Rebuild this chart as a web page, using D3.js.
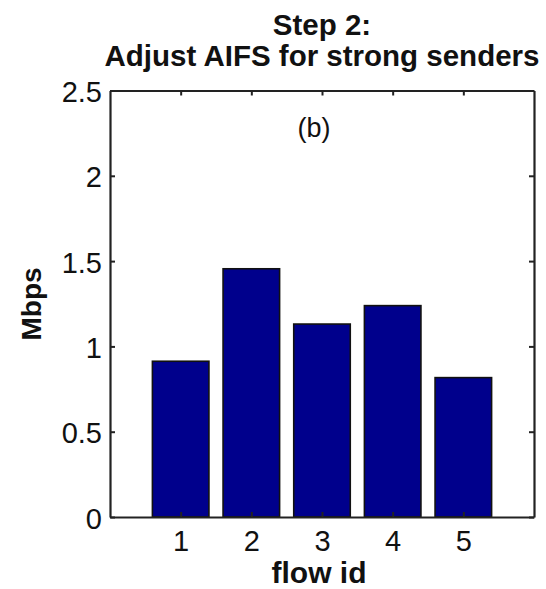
<!DOCTYPE html>
<html>
<head>
<meta charset="utf-8">
<script src="https://cdn.jsdelivr.net/npm/d3@7"></script>
<style>
  body { margin: 0; background: #fff; }
  text { font-family: "Liberation Sans", Arial, Helvetica, sans-serif; fill: #111; }
</style>
</head>
<body>
<div id="chart"></div>
<script>
// data
var flowIds = [1, 2, 3, 4, 5];
var mbps = [0.913, 1.455, 1.131, 1.239, 0.817];
var yTicks = [0, 0.5, 1, 1.5, 2, 2.5];
var yTickLabels = ["0", "0.5", "1", "1.5", "2", "2.5"];
var titleLines = ["Step 2:", "Adjust AIFS for strong senders"];

var width = 546, height = 589;
var margin = { left: 110, right: 12, top: 90.5, bottom: 72 };
var innerW = width - margin.left - margin.right;
var innerH = height - margin.top - margin.bottom;

var svg = d3.select("#chart").append("svg")
  .attr("width", width)
  .attr("height", height);

var x = d3.scaleLinear().domain([0, 6]).range([margin.left, margin.left + innerW]);
var y = d3.scaleLinear().domain([0, 2.5]).range([margin.top + innerH, margin.top]);
var barW = 0.8;

// bars
svg.append("g").selectAll("rect")
  .data(flowIds)
  .enter().append("rect")
  .attr("x", function(d) { return x(d - barW / 2); })
  .attr("width", function(d) { return x(d + barW / 2) - x(d - barW / 2); })
  .attr("y", function(d, i) { return y(mbps[i]); })
  .attr("height", function(d, i) { return y(0) - y(mbps[i]); })
  .attr("fill", "#00008c")
  .attr("stroke", "#111")
  .attr("stroke-width", 1.6);

// axes with inner ticks, mirrored on all sides (matlab box)
var tickLen = 5;
var fmtY = function(d) { return yTickLabels[yTicks.indexOf(d)]; };

var gLeft = svg.append("g")
  .attr("transform", "translate(" + margin.left + ",0)")
  .call(d3.axisLeft(y).tickValues(yTicks).tickFormat(fmtY).tickSizeInner(-tickLen).tickSizeOuter(0).tickPadding(8));
var gRight = svg.append("g")
  .attr("transform", "translate(" + (margin.left + innerW) + ",0)")
  .call(d3.axisRight(y).tickValues(yTicks).tickFormat("").tickSizeInner(-tickLen).tickSizeOuter(0));
var gBottom = svg.append("g")
  .attr("transform", "translate(0," + (margin.top + innerH) + ")")
  .call(d3.axisBottom(x).tickValues(flowIds).tickFormat(d3.format("d")).tickSizeInner(-tickLen).tickSizeOuter(0).tickPadding(13));
var gTop = svg.append("g")
  .attr("transform", "translate(0," + margin.top + ")")
  .call(d3.axisTop(x).tickValues(flowIds).tickFormat("").tickSizeInner(-tickLen).tickSizeOuter(0));

[gLeft, gRight, gBottom, gTop].forEach(function(g) {
  g.select(".domain").attr("stroke", "#222").attr("stroke-width", 2.2);
  g.selectAll(".tick line").attr("stroke", "#222").attr("stroke-width", 2);
  g.selectAll("text")
    .attr("font-family", "Liberation Sans, Arial, sans-serif")
    .attr("font-size", 29)
    .attr("fill", "#111");
});
gLeft.selectAll("text").attr("dy", "0.38em");
gBottom.selectAll("text").attr("dy", "0.72em");

// title
svg.append("g").selectAll("text")
  .data(titleLines)
  .enter().append("text")
  .attr("x", x(3))
  .attr("y", function(d, i) { return 35 + i * 31; })
  .attr("text-anchor", "middle")
  .attr("font-weight", "bold")
  .attr("font-size", 29.5)
  .text(function(d) { return d; });

// panel tag
svg.append("text")
  .attr("x", 314)
  .attr("y", 137)
  .attr("text-anchor", "middle")
  .attr("font-size", 27)
  .text("(b)");

// axis labels
svg.append("text")
  .attr("x", x(3) - 3)
  .attr("y", 583)
  .attr("text-anchor", "middle")
  .attr("font-weight", "bold")
  .attr("font-size", 30)
  .text("flow id");

svg.append("text")
  .attr("transform", "translate(41,304) rotate(-90)")
  .attr("text-anchor", "middle")
  .attr("font-weight", "bold")
  .attr("font-size", 28)
  .text("Mbps");
</script>
</body>
</html>
